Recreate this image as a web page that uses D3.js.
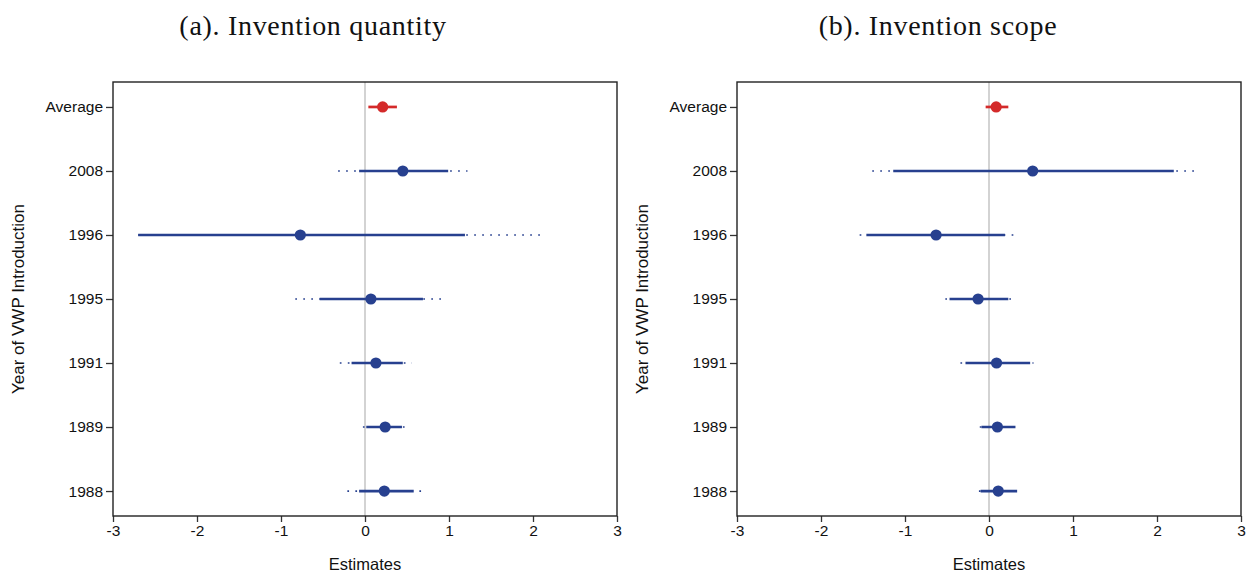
<!DOCTYPE html>
<html>
<head>
<meta charset="utf-8">
<script src="https://cdn.jsdelivr.net/npm/d3@7"></script>
<style>
  html, body { margin: 0; padding: 0; background: #fff; }
  svg { display: block; }
</style>
</head>
<body>
<svg id="chart" width="1251" height="573"></svg>
<script>
// Rows of the coefficient plot, top to bottom
const categories = ["Average", "2008", "1996", "1995", "1991", "1989", "1988"];
const xTicks = [-3, -2, -1, 0, 1, 2, 3];

// (a) Invention quantity: point estimates, inner (solid) and outer (dotted) intervals
const quantityEst  = [0.21, 0.45, -0.77, 0.07, 0.13, 0.24, 0.23];
const quantityLo   = [0.04, -0.07, -2.70, -0.54, -0.16, 0.015, -0.07];
const quantityHi   = [0.38, 0.99, 1.19, 0.69, 0.45, 0.44, 0.58];
const quantityLoW  = [0.04, -0.32, -2.70, -0.83, -0.30, -0.025, -0.21];
const quantityHiW  = [0.38, 1.22, 2.10, 0.98, 0.56, 0.52, 0.675];

// (b) Invention scope
const scopeEst  = [0.085, 0.52, -0.63, -0.13, 0.09, 0.10, 0.11];
const scopeLo   = [-0.04, -1.14, -1.46, -0.47, -0.28, -0.09, -0.10];
const scopeHi   = [0.23, 2.20, 0.19, 0.23, 0.49, 0.315, 0.335];
const scopeLoW  = [-0.04, -1.39, -1.54, -0.52, -0.34, -0.11, -0.12];
const scopeHiW  = [0.23, 2.44, 0.29, 0.28, 0.53, 0.33, 0.35];

const panels = [
  { title: "(a). Invention quantity", est: quantityEst, lo: quantityLo, hi: quantityHi, loW: quantityLoW, hiW: quantityHiW,
    left: 113, right: 617, titleX: 313 },
  { title: "(b). Invention scope", est: scopeEst, lo: scopeLo, hi: scopeHi, loW: scopeLoW, hiW: scopeHiW,
    left: 737, right: 1241, titleX: 938 }
];

const plotTop = 82, plotBottom = 516;
const blue = "#27408f", red = "#d42a2a";
const sans = "'Liberation Sans', Arial, sans-serif";
const serif = "'Liberation Serif', 'Times New Roman', serif";

const svg = d3.select("#chart");

panels.forEach((p, pi) => {
  const x = d3.scaleLinear().domain([-3, 3]).range([p.left, p.right]);
  const y = d3.scalePoint().domain(categories).range([plotTop, plotBottom]).padding(0.39);

  const g = svg.append("g");

  const clipId = "clip" + pi;
  svg.append("clipPath").attr("id", clipId)
    .append("rect").attr("x", p.left).attr("y", plotTop)
    .attr("width", p.right - p.left).attr("height", plotBottom - plotTop);

  // title
  svg.append("text")
    .attr("x", p.titleX).attr("y", 35)
    .attr("text-anchor", "middle")
    .style("font-family", serif).style("font-size", "28px")
    .style("letter-spacing", "0.7px").attr("fill", "#111")
    .text(p.title);

  // zero reference line
  g.append("line")
    .attr("x1", x(0)).attr("x2", x(0)).attr("y1", plotTop).attr("y2", plotBottom)
    .attr("stroke", "#c8c8c8").attr("stroke-width", 1.6);

  const rows = categories.map((c, i) => ({
    cat: c, est: p.est[i], lo: p.lo[i], hi: p.hi[i], loW: p.loW[i], hiW: p.hiW[i],
    color: c === "Average" ? red : blue
  }));

  const marks = g.append("g").attr("clip-path", `url(#${clipId})`);

  // outer intervals, dotted
  marks.selectAll("line.outer").data(rows.filter(d => d.cat !== "Average"))
    .join("line").attr("class", "outer")
    .attr("x1", d => x(d.loW)).attr("x2", d => x(d.hiW))
    .attr("y1", d => y(d.cat)).attr("y2", d => y(d.cat))
    .attr("stroke", d => d.color).attr("stroke-width", 1.7)
    .attr("stroke-dasharray", "1.7,6.3");

  // inner intervals, solid
  marks.selectAll("line.inner").data(rows)
    .join("line").attr("class", "inner")
    .attr("x1", d => x(d.lo)).attr("x2", d => x(d.hi))
    .attr("y1", d => y(d.cat)).attr("y2", d => y(d.cat))
    .attr("stroke", d => d.color).attr("stroke-width", 2.7);

  // point estimates
  marks.selectAll("circle").data(rows)
    .join("circle")
    .attr("cx", d => x(d.est)).attr("cy", d => y(d.cat)).attr("r", 5.6)
    .attr("fill", d => d.color);

  // axes
  const xAxis = d3.axisBottom(x).tickValues(xTicks).tickFormat(d3.format("d")).tickSizeOuter(0).tickSize(6).tickPadding(3);
  const yAxis = d3.axisLeft(y).tickSizeOuter(0).tickSize(7).tickPadding(3);

  const gx = g.append("g").attr("transform", `translate(0,${plotBottom})`).call(xAxis);
  const gy = g.append("g").attr("transform", `translate(${p.left},0)`).call(yAxis);
  [gx, gy].forEach(a => {
    a.select(".domain").remove();
    a.selectAll(".tick line").attr("stroke", "#333").attr("stroke-width", 1.3);
    a.selectAll(".tick text").style("font-family", sans).style("font-size", "15.5px").attr("fill", "#111");
  });
  gx.selectAll(".tick text").text(d => d < 0 ? "-" + Math.abs(d) : String(d));

  // frame
  g.append("rect")
    .attr("x", p.left).attr("y", plotTop)
    .attr("width", p.right - p.left).attr("height", plotBottom - plotTop)
    .attr("fill", "none").attr("stroke", "#222").attr("stroke-width", 1.4);

  // axis titles
  g.append("text")
    .attr("x", (p.left + p.right) / 2).attr("y", 570)
    .attr("text-anchor", "middle")
    .style("font-family", sans).style("font-size", "16.5px").attr("fill", "#111")
    .text("Estimates");

  g.append("text")
    .attr("transform", `translate(${p.left - 89},${(plotTop + plotBottom) / 2}) rotate(-90)`)
    .attr("text-anchor", "middle")
    .style("font-family", sans).style("font-size", "17px").attr("fill", "#111")
    .text("Year of VWP Introduction");
});
</script>
</body>
</html>
